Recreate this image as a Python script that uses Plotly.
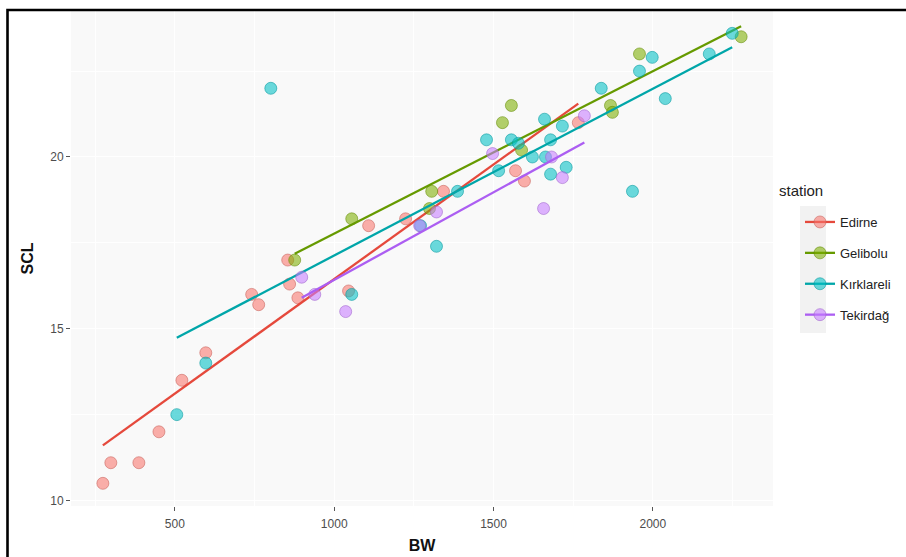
import numpy as np
import plotly.graph_objects as go

# Body weight (BW) and straight carapace length (SCL) by station
edirne_bw = [274, 299, 387, 450, 522, 597, 741, 763, 854, 860, 886, 1045, 1108, 1224, 1343, 1569, 1597, 1766]
edirne_scl = [10.5, 11.1, 11.1, 12.0, 13.5, 14.3, 16.0, 15.7, 17.0, 16.3, 15.9, 16.1, 18.0, 18.2, 19.0, 19.6, 19.3, 21.0]

gelibolu_bw = [876, 1055, 1299, 1306, 1528, 1556, 1588, 1867, 1873, 1958, 2277]
gelibolu_scl = [17.0, 18.2, 18.5, 19.0, 21.0, 21.5, 20.2, 21.5, 21.3, 23.0, 23.5]

kirklareli_bw = [801, 506, 597, 1055, 1271, 1321, 1387, 1478, 1516, 1556, 1578, 1622, 1660, 1663,
                 1679, 1679, 1716, 1728, 1838, 1936, 1958, 1998, 2039, 2177, 2249]
kirklareli_scl = [22.0, 12.5, 14.0, 16.0, 18.0, 17.4, 19.0, 20.5, 19.6, 20.5, 20.4, 20.0, 21.1, 20.0,
                  20.5, 19.5, 20.9, 19.7, 22.0, 19.0, 22.5, 22.9, 21.7, 23.0, 23.6]

tekirdag_bw = [898, 939, 1036, 1268, 1321, 1497, 1657, 1682, 1716, 1785]
tekirdag_scl = [16.5, 16.0, 15.5, 18.0, 18.4, 20.1, 18.5, 20.0, 19.4, 21.2]

stations = ["Edirne", "Gelibolu", "Kırklareli", "Tekirdağ"]
station_bw = [edirne_bw, gelibolu_bw, kirklareli_bw, tekirdag_bw]
station_scl = [edirne_scl, gelibolu_scl, kirklareli_scl, tekirdag_scl]

x_ticks = [500, 1000, 1500, 2000]
y_ticks = [10, 15, 20]

fill_rgb = [(248, 118, 109), (124, 174, 0), (0, 191, 196), (199, 124, 255)]
line_colors = ["#E5493C", "#669A00", "#00A6A9", "#AC5EF2"]

fig = go.Figure()

for name, bw, scl, rgb, lc in zip(stations, station_bw, station_scl, fill_rgb, line_colors):
    r, g, b = rgb
    marker = dict(
        size=12,
        color=f"rgba({r},{g},{b},0.58)",
        line=dict(color=f"rgba({int(r*0.8)},{int(g*0.8)},{int(b*0.8)},0.55)", width=1),
    )
    fig.add_trace(go.Scatter(
        x=bw, y=scl, mode="markers", marker=marker,
        legendgroup=name, showlegend=False, hoverinfo="x+y",
    ))
    # least-squares fit across the station's BW range
    bw_arr = np.array(bw, dtype=float)
    slope, intercept = np.polyfit(bw_arr, np.array(scl, dtype=float), 1)
    xs = np.array([bw_arr.min(), bw_arr.max()])
    fig.add_trace(go.Scatter(
        x=xs, y=slope * xs + intercept, mode="lines",
        line=dict(color=lc, width=2.3),
        legendgroup=name, showlegend=False, hoverinfo="skip",
    ))
    # legend entry: line with a point on it
    fig.add_trace(go.Scatter(
        x=[None], y=[None], mode="lines+markers", name=name,
        marker=marker, line=dict(color=lc, width=2.3),
        legendgroup=name, showlegend=True,
    ))

L, R, T, B = 71, 133, 11, 51
W, H = 906, 557
pw, ph = W - L - R, H - T - B

def px_x(p):
    return (p - L) / pw

def px_y(p):
    return 1 - (p - T) / ph

shapes = [
    # outer frame
    dict(type="rect", xref="paper", yref="paper",
         x0=px_x(7.5), x1=px_x(960), y0=px_y(600), y1=px_y(10),
         line=dict(color="black", width=2.6), fillcolor="rgba(0,0,0,0)", layer="above"),
    # legend key background
    dict(type="rect", xref="paper", yref="paper",
         x0=px_x(800), x1=px_x(826), y0=px_y(333), y1=px_y(206),
         line=dict(width=0), fillcolor="#F2F2F2", layer="below"),
]

axis_common = dict(
    showline=False, zeroline=False, automargin=False,
    gridcolor="#FFFFFF", gridwidth=1.1,
    ticks="outside", ticklen=4, tickwidth=1, tickcolor="#555555",
    tickfont=dict(family="Liberation Sans, Arial, sans-serif", size=12, color="#4D4D4D"),
)

fig.update_layout(
    width=W, height=H,
    margin=dict(l=L, r=R, t=T, b=B, autoexpand=False),
    paper_bgcolor="white",
    plot_bgcolor="#F9F9F9",
    font=dict(family="Liberation Sans, Arial, sans-serif", color="#222222"),
    xaxis=dict(
        **axis_common,
        range=[174, 2377], tickvals=x_ticks, ticktext=[str(v) for v in x_ticks],
        ticklabelstandoff=3,
        minor=dict(tickvals=[250, 750, 1250, 1750, 2250], showgrid=True, gridcolor="#FFFFFF", gridwidth=0.6, ticks=""),
        title=dict(text="<b>BW</b>", font=dict(size=16, color="#111111"), standoff=9),
    ),
    yaxis=dict(
        **axis_common,
        range=[9.84, 24.25], tickvals=y_ticks, ticktext=[str(v) for v in y_ticks],
        minor=dict(tickvals=[12.5, 17.5, 22.5], showgrid=True, gridcolor="#FFFFFF", gridwidth=0.6, ticks=""),
        title=dict(text="<b>SCL</b>", font=dict(size=16, color="#111111"), standoff=12),
    ),
    legend=dict(
        x=px_x(800), xanchor="left", y=px_y(207), yanchor="top",
        bgcolor="rgba(0,0,0,0)", font=dict(size=13, color="#222222"),
        tracegroupgap=11, itemwidth=30,
    ),
    annotations=[dict(
        text="station", xref="paper", yref="paper",
        x=px_x(777), xanchor="left", y=px_y(190), yanchor="middle",
        showarrow=False, font=dict(size=15, color="#222222"),
    )],
    shapes=shapes,
    showlegend=True,
)

fig.write_html("out.html")
